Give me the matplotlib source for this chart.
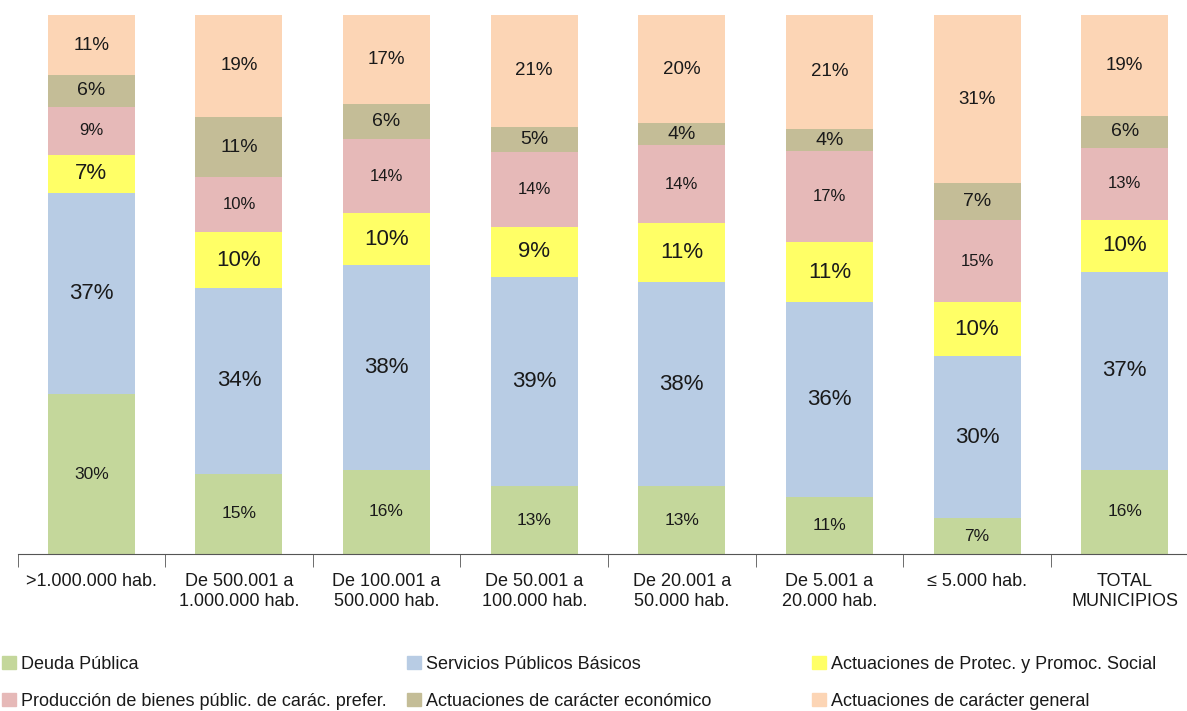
import matplotlib
matplotlib.use("Agg")
import matplotlib.pyplot as plt
import matplotlib.patches as mpatches
import numpy as np

categories = [">1.000.000 hab.", "De 500.001 a\n1.000.000 hab.", "De 100.001 a\n500.000 hab.",
              "De 50.001 a\n100.000 hab.", "De 20.001 a\n50.000 hab.", "De 5.001 a\n20.000 hab.",
              "\u2264 5.000 hab.", "TOTAL\nMUNICIPIOS"]

series_names = ["Deuda Pública", "Servicios Públicos Básicos",
                "Actuaciones de Protec. y Promoc. Social",
                "Producción de bienes públic. de carác. prefer.",
                "Actuaciones de carácter económico",
                "Actuaciones de carácter general"]

deuda = [29.6, 14.9, 15.6, 12.6, 12.6, 10.6, 6.6, 15.6]
servicios = [37.4, 34.4, 38.0, 38.8, 37.8, 36.2, 30.1, 36.8]
protec = [7.1, 10.4, 9.6, 9.3, 11.0, 11.0, 10.0, 9.6]
produccion = [8.9, 10.2, 13.8, 13.8, 14.4, 16.9, 15.2, 13.4]
economico = [5.8, 11.2, 6.4, 4.8, 4.1, 4.2, 6.9, 5.9]
general = [11.2, 18.9, 16.6, 20.7, 20.1, 21.1, 31.2, 18.7]

colors = ["#C4D79B", "#B8CCE4", "#FFFF66", "#E6B9B8", "#C4BD97", "#FCD5B5"]
# label font size per series
label_size = [12.5, 16, 16, 12, 14, 13.5]

fig = plt.figure(figsize=(11.87, 7.11), dpi=100)
ax = fig.add_axes([17.5 / 1187, 1 - 554 / 711, 1181 / 1187, 539 / 711])

x = np.arange(len(categories))
data = [deuda, servicios, protec, produccion, economico, general]
bottom = np.zeros(len(categories))
for vals, col, fs in zip(data, colors, label_size):
    vals = np.array(vals)
    ax.bar(x, vals, 0.59, bottom=bottom, color=col, edgecolor="none")
    for xi, b, v in zip(x, bottom, vals):
        ax.text(xi, b + v / 2, "%.0f%%" % v, ha="center", va="center",
                fontsize=fs, family="Liberation Sans", color="#1a1a1a")
    bottom += vals

ax.set_xlim(-0.5, len(categories) - 0.5)
ax.set_ylim(0, 100)
ax.set_yticks([])
for s in ("top", "right", "left"):
    ax.spines[s].set_visible(False)
ax.spines["bottom"].set_color("#555555")
ax.set_xticks(x)
ax.set_xticklabels(categories, family="Liberation Sans", fontsize=13, color="#1a1a1a")
ax.tick_params(axis="x", length=0, pad=14)
ax.set_xticks(np.arange(len(categories)) - 0.5, minor=True)
ax.tick_params(axis="x", which="minor", length=9, color="#555555")

# legend: three columns placed by hand
cols = [(0, 3), (1, 4), (2, 5)]
xpos = [2 / 1187, 407 / 1187, 812 / 1187]
for (i, j), xp in zip(cols, xpos):
    handles = [mpatches.Patch(color=colors[k], label=series_names[k]) for k in (i, j)]
    leg = fig.legend(handles=handles, loc="upper left", bbox_to_anchor=(xp, 1 - 656 / 711),
                     frameon=False, handlelength=0.75, handleheight=0.75, handletextpad=0.3,
                     labelspacing=1.1, borderaxespad=0, borderpad=0,
                     prop={"family": "Liberation Sans", "size": 13})
    for t in leg.get_texts():
        t.set_color("#1a1a1a")

fig.savefig("out.png", dpi=100)
